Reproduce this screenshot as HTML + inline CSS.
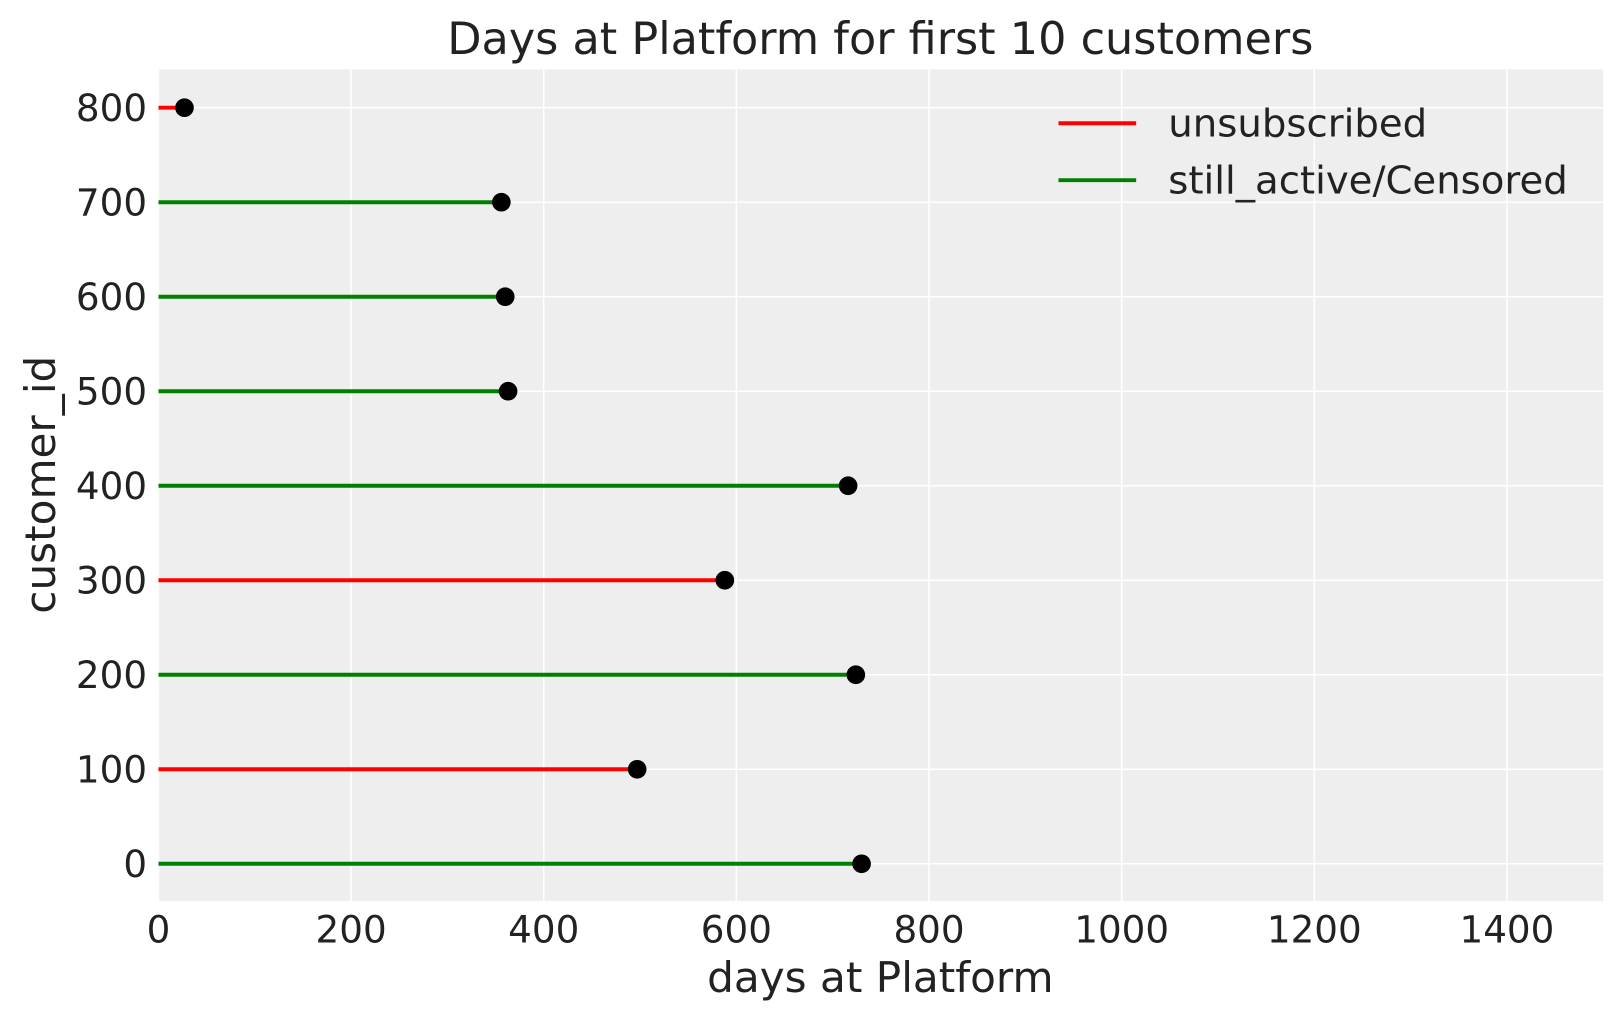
<!DOCTYPE html>
<html><head><meta charset="utf-8"><style>
body{margin:0;background:#fff;}
svg{display:block;font-family:"DejaVu Sans","Liberation Sans",sans-serif;}
</style></head><body>
<svg id="chart" width="1623" height="1023">
<g transform="scale(1.0357)">
<rect x="153" y="67" width="1395" height="803" fill="#eeeeee"/>
<g id="grid"></g>
<g id="marks"></g>
<g id="ticks"></g>
<text x="850" y="52" font-size="43" text-anchor="middle" fill="#222">Days at Platform for first 10 customers</text>
<text x="850" y="958" font-size="40.7" text-anchor="middle" fill="#222">days at Platform</text>
<text transform="translate(53,468) rotate(-90)" font-size="40.7" text-anchor="middle" fill="#222">customer_id</text>
<g>
<line x1="1022" y1="119" x2="1097" y2="119" stroke="#ff0000" stroke-width="3.8"/>
<text x="1128" y="132" font-size="37.3" fill="#222">unsubscribed</text>
<line x1="1022" y1="174" x2="1097" y2="174" stroke="#008000" stroke-width="3.8"/>
<text x="1128" y="187" font-size="37.3" fill="#222">still_active/Censored</text>
</g>
</g>
</svg>
<script>
const customerIds=[0,100,200,300,400,500,600,700,800];
const daysValues=[730,497,724,588,716,363,360,356,27];
const unsubscribed=[0,1,0,1,0,0,0,0,1];
const xTicks=[0,200,400,600,800,1000,1200,1400];
const yTicks=[0,100,200,300,400,500,600,700,800];
const NS="http://www.w3.org/2000/svg";
function xS(v){return 153+v*0.93;}
function yS(v){return 834-v*0.9125;}
function mk(tag,attrs,parent){const e=document.createElementNS(NS,tag);for(const k in attrs)e.setAttribute(k,attrs[k]);document.getElementById(parent).appendChild(e);return e;}
xTicks.forEach(t=>{
 const l=mk('line',{x1:xS(t),x2:xS(t),y1:67,y2:870,stroke:'#fff','stroke-width':1.5},'grid');
 
 
 const tx=mk('text',{x:xS(t),y:910,'font-size':36,'text-anchor':'middle',fill:'#222'},'ticks');
 tx.textContent=t;
 
 
});
yTicks.forEach(t=>{
 const l=mk('line',{x1:153,x2:1548,y1:yS(t),y2:yS(t),stroke:'#fff','stroke-width':1.5},'grid');
 
 
 const tx=mk('text',{x:142,y:yS(t)+13,'font-size':36,'text-anchor':'end',fill:'#222'},'ticks');
 tx.textContent=t;
 
 
});
customerIds.forEach((c,i)=>{
 const l=mk('line',{x1:xS(0),x2:xS(daysValues[i]),y1:yS(c),y2:yS(c),stroke:unsubscribed[i]?'#ff0000':'#008000','stroke-width':3.8},'marks');
 
 
});
customerIds.forEach((c,i)=>{
 const d=mk('circle',{cx:xS(daysValues[i]),cy:yS(c),r:9,fill:'#000'},'marks');
 
 
});
</script>
</body></html>
